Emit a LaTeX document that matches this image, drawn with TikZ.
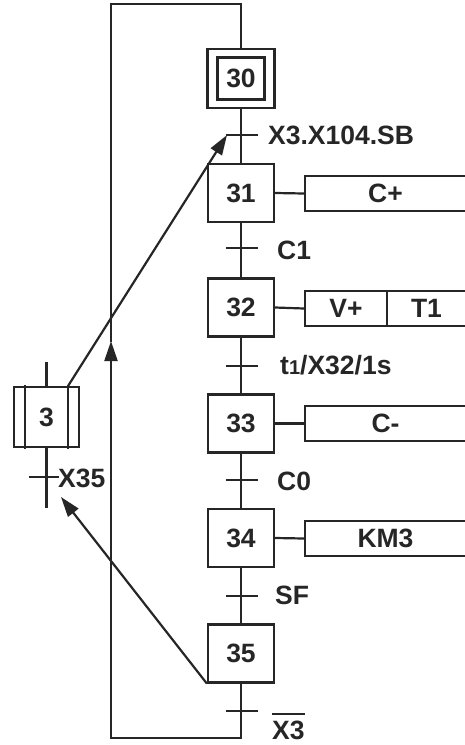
\documentclass[tikz,border=0pt]{standalone}
\usepackage{fontspec}
\setmainfont{Liberation Sans}
\usetikzlibrary{arrows.meta}
\begin{document}
\begin{tikzpicture}[x=1pt,y=-1pt,
  every node/.style={font=\fontsize{26.5}{30}\selectfont\bfseries, inner sep=0pt, text=black!85},
  line/.style={line width=2.2pt, line cap=rect, draw=black!85},
  stepbox/.style={draw=black!85, line width=2.2pt, minimum width=66pt, minimum height=58pt},
  actbox/.style={draw=black!85, line width=2.2pt, minimum height=35pt},
  tick/.style={line width=2.2pt, draw=black!85},
  lab/.style={anchor=base west},
  arr/.style={line width=2.2pt, draw=black!85, -{Triangle[length=20pt,width=13pt]}}]
\useasboundingbox (0,0) rectangle (465,745);

% steps
\node[stepbox, minimum width=67pt, minimum height=59pt] (s30) at (241,78.5) {};
\node[draw=black!85, line width=2.2pt, minimum width=47pt, minimum height=42pt] (s30i) at (s30) {30};
\node[stepbox] (s31) at (241,193) {31};
\node[stepbox] (s32) at (241,307.5) {32};
\node[stepbox] (s33) at (241,423.5) {33};
\node[stepbox] (s34) at (241,538) {34};
\node[stepbox] (s35) at (241,653.5) {35};
\node[draw=black!85, line width=2.2pt, minimum width=65pt, minimum height=60pt] (s3) at (46.5,417) {3};
\draw[line] ([xshift=12pt]s3.north west) -- ([xshift=12pt]s3.south west);
\draw[line] ([xshift=-12pt]s3.north east) -- ([xshift=-12pt]s3.south east);

% actions
\node[actbox, minimum width=161pt] (a31) at (385.5,193.5) {C+};
\node[actbox, minimum width=82pt] (a32) at (346,308.5) {V+};
\node[actbox, minimum width=79pt] (a32b) at (426.5,308.5) {T1};
\node[actbox, minimum width=161pt] (a33) at (385.5,423.5) {C-};
\node[actbox, minimum width=161pt] (a34) at (385.5,538.5) {KM3};
\draw[line] (s31.east) -- (a31.west);
\draw[line] (s32.east) -- (a32.west);
\draw[line] (s33.east) -- (a33.west);
\draw[line] (s34.east) -- (a34.west);

% transitions
\coordinate (t0) at (241,135);
\coordinate (t1) at (241,248);
\coordinate (t2) at (241,366);
\coordinate (t3) at (241,480);
\coordinate (t4) at (241,596);
\coordinate (t5) at (241,711);
\foreach \t in {t0,t1,t2,t3,t4,t5}
  \draw[tick] ([xshift=-15pt]\t) -- ([xshift=17pt]\t);
\node[lab] (l0) at (268,144) {X3.X104.SB};
\node[lab] (l1) at (277,259) {C1};
\node[lab] (l2) at (280,374) {t{\fontsize{20}{20}\selectfont 1}/X32/1s};
\node[lab] (l3) at (277,490) {C0};
\node[lab] (l4) at (275,604) {SF};
\node[lab] (l5) at (272,739) {\vbox{\hrule height 2pt\kern 6pt\hbox{X3}}};

% main chain
\draw[line] (s30.south) -- (s31.north);
\draw[line] (s31.south) -- (s32.north);
\draw[line] (s32.south) -- (s33.north);
\draw[line] (s33.south) -- (s34.north);
\draw[line] (s34.south) -- (s35.north);

% loop back
\coordinate (bot) at (241,738);
\coordinate (bl) at (111,738);
\coordinate (la) at (111,341);
\coordinate (tl) at (111,4);
\coordinate (tr) at (241,4);
\draw[arr, line cap=butt] (s35.south) -- (bot) -- (bl) -- (la);
\draw[line] (la) -- (tl) -- (tr) -- (s30.north);

% step 3 links
\coordinate (s3top) at (46.5,363);
\coordinate (s3bot) at (46.5,507);
\draw[line] (s3.north) -- (s3top);
\draw[line] (s3.south) -- (s3bot);
\coordinate (x35) at (46.5,477);
\draw[tick] ([xshift=-18pt]x35) -- ([xshift=12pt]x35);
\node[lab] (lx35) at (58,487) {X35};

% synchronisation arrows
\coordinate (a3) at (61,497);
\draw[arr] ([xshift=-12pt]s3.north east) -- ([xshift=-14pt]t0);
\draw[arr] (s35.south west) -- (a3);
\end{tikzpicture}
\end{document}
